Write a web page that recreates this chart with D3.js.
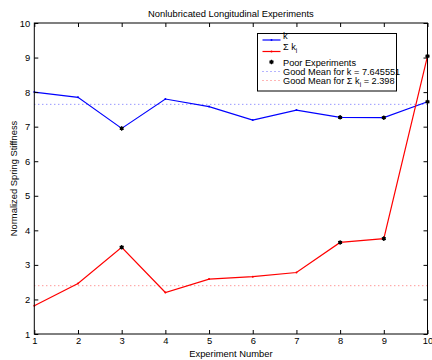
<!DOCTYPE html>
<html>
<head>
<meta charset="utf-8">
<script src="https://cdn.jsdelivr.net/npm/d3@7"></script>
<style>
  body { margin: 0; background: #fff; }
  svg { display: block; font-family: "Liberation Sans", Arial, sans-serif; }
</style>
</head>
<body>
<svg id="chart" width="432" height="360"></svg>
<script>
// Experiment numbers and measured stiffness series
const experiments = [1, 2, 3, 4, 5, 6, 7, 8, 9, 10];
const kValues = [8.00, 7.85, 6.95, 7.80, 7.58, 7.19, 7.48, 7.27, 7.26, 7.72];
const sumKValues = [1.82, 2.46, 3.51, 2.20, 2.59, 2.66, 2.78, 3.65, 3.76, 9.04];
const poorExperiments = [3, 8, 9, 10];
const goodMeanK = 7.645551;
const goodMeanSumK = 2.398;
const xTicks = [1, 2, 3, 4, 5, 6, 7, 8, 9, 10];
const yTicks = [1, 2, 3, 4, 5, 6, 7, 8, 9, 10];

const svg = d3.select("#chart");
const plotLeft = 34.3, plotRight = 427.5, plotTop = 23, plotBottom = 334;

const x = d3.scaleLinear().domain([1, 10]).range([plotLeft, plotRight]);
const y = d3.scaleLinear().domain([1, 10]).range([plotBottom, plotTop]);

// white plot area
svg.append("rect").attr("x", plotLeft).attr("y", plotTop)
  .attr("width", plotRight - plotLeft).attr("height", plotBottom - plotTop).attr("fill", "#fff");

// mean reference lines (dotted)
svg.append("line").attr("x1", plotLeft).attr("x2", plotRight)
  .attr("y1", y(goodMeanK)).attr("y2", y(goodMeanK))
  .attr("stroke", "#6a6aff").attr("stroke-width", 1).attr("stroke-dasharray", "1,3");
svg.append("line").attr("x1", plotLeft).attr("x2", plotRight)
  .attr("y1", y(goodMeanSumK)).attr("y2", y(goodMeanSumK))
  .attr("stroke", "#ff6a6a").attr("stroke-width", 1).attr("stroke-dasharray", "1,3");

const line = d3.line().x((d, i) => x(experiments[i])).y(d => y(d));

function series(values, color) {
  svg.append("path").datum(values).attr("d", line)
    .attr("fill", "none").attr("stroke", color).attr("stroke-width", 1.2);
  svg.append("g").selectAll("circle").data(values).join("circle")
    .attr("cx", (d, i) => x(experiments[i])).attr("cy", d => y(d))
    .attr("r", 1).attr("fill", color);
}
series(kValues, "#0000ff");
series(sumKValues, "#ff0000");

// poor-experiment markers: small asterisk with a filled core
const asterisk = d3.symbol().type(d3.symbolAsterisk).size(14);
function poorMarker(g, cx, cy) {
  g.append("path").attr("d", asterisk).attr("transform", `translate(${cx},${cy})`)
    .attr("fill", "none").attr("stroke", "#000").attr("stroke-width", 1.2);
  g.append("circle").attr("cx", cx).attr("cy", cy).attr("r", 1.8).attr("fill", "#000");
}
const poorG = svg.append("g");
poorExperiments.forEach(e => {
  const i = experiments.indexOf(e);
  poorMarker(poorG, x(e), y(kValues[i]));
  poorMarker(poorG, x(e), y(sumKValues[i]));
});

// axes with inward ticks, box style
const fs = "9.4px";
const axB = svg.append("g").attr("transform", `translate(0,${plotBottom})`)
  .call(d3.axisBottom(x).tickValues(xTicks).tickSize(-4).tickPadding(3).tickFormat(d3.format("d")));
const axT = svg.append("g").attr("transform", `translate(0,${plotTop})`)
  .call(d3.axisTop(x).tickValues(xTicks).tickSize(-4).tickFormat(""));
const axL = svg.append("g").attr("transform", `translate(${plotLeft},0)`)
  .call(d3.axisLeft(y).tickValues(yTicks).tickSize(-4).tickPadding(4).tickFormat(d3.format("d")));
const axR = svg.append("g").attr("transform", `translate(${plotRight},0)`)
  .call(d3.axisRight(y).tickValues(yTicks).tickSize(-4).tickFormat(""));
[axB, axT, axL, axR].forEach(a => {
  a.select(".domain").remove();
  a.selectAll("line").attr("stroke", "#000").attr("stroke-width", 1);
  a.selectAll("text").attr("font-size", fs).attr("fill", "#000")
    .attr("font-family", "Liberation Sans, Arial, sans-serif");
});
svg.append("rect").attr("x", plotLeft).attr("y", plotTop)
  .attr("width", plotRight - plotLeft).attr("height", plotBottom - plotTop)
  .attr("fill", "none").attr("stroke", "#000").attr("stroke-width", 1);

// titles
svg.append("text").attr("x", (plotLeft + plotRight) / 2).attr("y", 17)
  .attr("text-anchor", "middle").attr("font-size", fs)
  .text("Nonlubricated Longitudinal Experiments");
svg.append("text").attr("x", (plotLeft + plotRight) / 2).attr("y", 356.5)
  .attr("text-anchor", "middle").attr("font-size", fs)
  .text("Experiment Number");
svg.append("text").attr("transform", `translate(17,${(plotTop + plotBottom) / 2}) rotate(-90)`)
  .attr("text-anchor", "middle").attr("font-size", fs)
  .text("Normalized Spring Stiffness");

// legend
const lfs = "9.2px";
const lg = svg.append("g");
lg.append("rect").attr("x", 257.5).attr("y", 33.5).attr("width", 139).attr("height", 57.5)
  .attr("fill", "#fff").attr("stroke", "#000").attr("stroke-width", 1);
const lx1 = 262.5, lx2 = 280.5, tx = 283;
const entries = [
  { y: 40, type: "line", color: "#0000ff" },
  { y: 51.5, type: "line", color: "#ff0000" },
  { y: 62, type: "star" },
  { y: 71.5, type: "dot", color: "#6a6aff" },
  { y: 80.5, type: "dot", color: "#ff6a6a" }
];
entries.forEach(e => {
  if (e.type === "line") {
    lg.append("line").attr("x1", lx1).attr("x2", lx2).attr("y1", e.y).attr("y2", e.y)
      .attr("stroke", e.color).attr("stroke-width", 1.2);
    lg.append("circle").attr("cx", (lx1 + lx2) / 2).attr("cy", e.y).attr("r", 1).attr("fill", e.color);
  } else if (e.type === "star") {
    poorMarker(lg, (lx1 + lx2) / 2, e.y);
  } else {
    lg.append("line").attr("x1", lx1).attr("x2", lx2).attr("y1", e.y).attr("y2", e.y)
      .attr("stroke", e.color).attr("stroke-width", 1).attr("stroke-dasharray", "1,3");
  }
});
lg.append("text").attr("x", tx).attr("y", 38.5).attr("font-size", lfs).text("k");
const t2 = lg.append("text").attr("x", tx).attr("y", 50).attr("font-size", lfs);
t2.append("tspan").text("\u03A3 k");
t2.append("tspan").attr("font-size", "6.5px").attr("dy", 2.5).text("i");
lg.append("text").attr("x", tx).attr("y", 65.5).attr("font-size", lfs).text("Poor Experiments");
lg.append("text").attr("x", tx).attr("y", 74.6).attr("font-size", lfs)
  .text("Good Mean for k = " + goodMeanK);
const t5 = lg.append("text").attr("x", tx).attr("y", 84).attr("font-size", lfs);
t5.append("tspan").text("Good Mean for \u03A3 k");
t5.append("tspan").attr("font-size", "6.5px").attr("dy", 2.5).text("i");
t5.append("tspan").attr("dy", -2.5).text(" = " + goodMeanSumK);
</script>
</body>
</html>
